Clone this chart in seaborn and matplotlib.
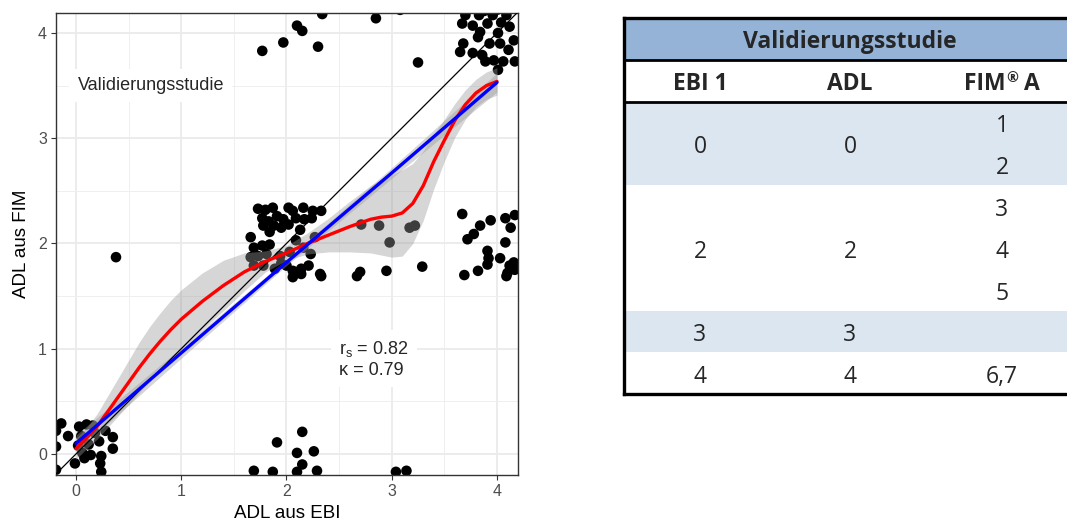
import numpy as np
import pandas as pd
import matplotlib
matplotlib.use("Agg")
import matplotlib.pyplot as plt
import seaborn as sns
from matplotlib.patches import Rectangle

# ---------------- data: jittered scatter points (ADL aus EBI, ADL aus FIM) ----------------
pts_00 = [(-0.19, 0.22), (-0.14, 0.29), (-0.075, 0.17), (-0.19, 0.07), (-0.19, -0.15),
          (-0.01, -0.09), (0.03, 0.26), (0.10, 0.28), (0.16, 0.27), (0.06, 0.01),
          (0.14, -0.01), (0.22, 0.12), (0.28, 0.22), (0.35, 0.16), (0.35, 0.05),
          (0.24, -0.02), (0.23, -0.09), (0.24, -0.17), (0.05, 0.17), (0.12, 0.09),
          (0.18, 0.20), (0.08, -0.04), (0.02, 0.08)]
pts_02 = [(0.38, 1.87)]
pts_22 = [(1.73, 2.33), (1.80, 2.32), (1.87, 2.34), (2.02, 2.34), (2.06, 2.31), (2.16, 2.34),
          (2.25, 2.31), (2.33, 2.31), (1.77, 2.24), (1.83, 2.21), (1.91, 2.26), (1.97, 2.23),
          (2.09, 2.24), (2.17, 2.23), (2.24, 2.24), (1.78, 2.17), (1.88, 2.17), (1.95, 2.15),
          (2.02, 2.18), (2.13, 2.13), (1.66, 2.06), (1.84, 2.11),
          (1.69, 1.96), (1.77, 1.98), (1.84, 1.99), (1.66, 1.87), (1.73, 1.88), (1.81, 1.90),
          (1.94, 1.88), (2.03, 1.92), (2.09, 2.03), (2.16, 1.96), (2.23, 1.90), (2.27, 2.06),
          (1.69, 1.79), (1.78, 1.79), (1.89, 1.76), (2.00, 1.79), (2.06, 1.74), (2.14, 1.76),
          (2.06, 1.68), (2.14, 1.71), (2.32, 1.71), (1.95, 1.81), (2.21, 1.79), (2.33, 1.69)]
pts_20 = [(1.69, -0.16), (1.87, -0.17), (1.91, 0.11), (2.10, 0.01), (2.10, -0.17),
          (2.15, 0.21), (2.15, -0.10), (2.26, 0.025), (2.29, -0.16), (3.04, -0.17), (3.14, -0.16)]
pts_24 = [(1.77, 3.83), (1.97, 3.91), (2.10, 4.07), (2.15, 4.02), (2.30, 3.87), (2.34, 4.18),
          (2.85, 4.14), (3.25, 3.72), (3.08, 4.22)]
pts_32 = [(2.71, 2.18), (2.88, 2.17), (2.98, 2.01), (3.17, 2.15), (3.22, 2.17),
          (2.67, 1.69), (2.70, 1.73), (2.95, 1.74), (3.29, 1.78)]
pts_44 = [(3.65, 3.82), (3.68, 3.90), (3.67, 4.09), (3.70, 4.17), (3.77, 4.07), (3.77, 3.81),
          (3.83, 4.17), (3.84, 4.01), (3.86, 3.79), (3.91, 4.09), (3.93, 3.90), (3.96, 4.17),
          (3.97, 3.74), (4.01, 4.00), (4.03, 3.90), (4.04, 4.10), (4.06, 3.73), (4.09, 4.17),
          (4.11, 3.84), (4.12, 4.06), (4.16, 3.93), (4.17, 3.73), (4.01, 3.65), (3.89, 3.73),
          (3.82, 3.96), (3.72, 4.22), (3.88, 4.21), (4.00, 4.22)]
pts_42 = [(3.67, 2.28), (3.72, 2.04), (3.78, 2.09), (3.84, 2.17), (3.94, 2.22), (4.08, 2.24),
          (4.17, 2.27), (4.13, 2.15), (4.08, 2.01), (3.91, 1.93), (3.92, 1.86), (3.91, 1.80),
          (4.03, 1.86), (3.82, 1.74), (3.69, 1.70), (4.09, 1.69), (4.12, 1.79), (4.16, 1.82),
          (4.17, 1.75), (4.10, 1.72)]

# ---------------- data: loess (red) and linear (blue) fits with confidence bands ----------------
loess_x  = [0.0, 0.1, 0.2, 0.3, 0.4, 0.5, 0.6, 0.7, 0.8, 0.9, 1.0, 1.2, 1.4, 1.6, 1.8,
            2.0, 2.2, 2.4, 2.6, 2.8, 2.9, 3.0, 3.1, 3.2, 3.3, 3.4, 3.5, 3.6, 3.7, 3.8, 3.9, 4.0]
loess_y  = [0.05, 0.15, 0.26, 0.40, 0.54, 0.68, 0.82, 0.95, 1.07, 1.18, 1.28, 1.45, 1.60, 1.73, 1.83,
            1.91, 2.00, 2.08, 2.16, 2.23, 2.25, 2.26, 2.29, 2.38, 2.55, 2.78, 2.98, 3.17, 3.32, 3.43, 3.50, 3.54]
loess_lo = [-0.05, 0.05, 0.14, 0.25, 0.36, 0.47, 0.58, 0.69, 0.80, 0.90, 1.00, 1.18, 1.36, 1.55, 1.73,
            1.84, 1.90, 1.92, 1.92, 1.91, 1.89, 1.87, 1.88, 2.00, 2.22, 2.52, 2.78, 3.01, 3.18, 3.30, 3.37, 3.41]
loess_hi = [0.15, 0.25, 0.38, 0.55, 0.72, 0.89, 1.06, 1.21, 1.34, 1.46, 1.56, 1.72, 1.84, 1.91, 1.93,
            1.98, 2.10, 2.24, 2.40, 2.55, 2.61, 2.65, 2.70, 2.76, 2.88, 3.04, 3.18, 3.33, 3.46, 3.56, 3.63, 3.67]

lm_x  = [0.0, 1.0, 2.0, 3.0, 4.0]
lm_y  = [0.10, 0.96, 1.82, 2.67, 3.53]
lm_lo = [0.02, 0.91, 1.79, 2.62, 3.44]
lm_hi = [0.18, 1.01, 1.85, 2.72, 3.62]

x_ticks = [0, 1, 2, 3, 4]
y_ticks = [0, 1, 2, 3, 4]
x_label = "ADL aus EBI"
y_label = "ADL aus FIM"
study_label = "Validierungsstudie"
stat_rs = "0.82"
stat_kappa = "0.79"

# ---------------- data: table ----------------
table_title = "Validierungsstudie"
table_cols = ["EBI 1", "ADL", "FIM® A"]
ebi_vals = ["0", "2", "3", "4"]
adl_vals = ["0", "2", "3", "4"]
fim_vals = [["1", "2"], ["3", "4", "5"], [], ["6,7"]]
row_lines = [2, 3, 1, 1]

# ---------------- figure ----------------
sns.set_theme(style="white")
plt.rcParams['font.family'] = ['Liberation Sans', 'DejaVu Sans']
plt.rcParams['mathtext.fontset'] = 'custom'
plt.rcParams['mathtext.rm'] = 'Liberation Sans'

W, H = 1067, 523
fig = plt.figure(figsize=(W / 100, H / 100), dpi=100)
fig.patch.set_facecolor('white')

ax = fig.add_axes([56 / W, (H - 475) / H, 462 / W, 462 / H])
ax.set_facecolor('white')

all_pts = pts_00 + pts_02 + pts_22 + pts_20 + pts_24 + pts_32 + pts_44 + pts_42
df = pd.DataFrame(all_pts, columns=["ebi", "fim"])

sns.scatterplot(data=df, x="ebi", y="fim", color="black", s=58, edgecolor="none",
                linewidth=0, ax=ax, zorder=2)

ax.fill_between(loess_x, loess_lo, loess_hi, color="#999999", alpha=0.4, lw=0, zorder=3)
ax.fill_between(lm_x, lm_lo, lm_hi, color="#999999", alpha=0.4, lw=0, zorder=3)

ax.axline((0, 0), slope=1, color="black", lw=0.9, zorder=3.5)

sns.lineplot(x=loess_x, y=loess_y, color="#FF0000", lw=2.4, ax=ax, sort=False,
             estimator=None, zorder=4)
sns.lineplot(x=lm_x, y=lm_y, color="#0000FF", lw=2.4, ax=ax, sort=False,
             estimator=None, zorder=4.5)

ax.set_xlim(-0.19, 4.20)
ax.set_ylim(-0.20, 4.19)
ax.set_xticks(x_ticks)
ax.set_yticks(y_ticks)
ax.set_xticks([0.5, 1.5, 2.5, 3.5], minor=True)
ax.set_yticks([0.5, 1.5, 2.5, 3.5], minor=True)
ax.grid(which="major", color="#EBEBEB", lw=1.3, zorder=0)
ax.grid(which="minor", color="#EFEFEF", lw=0.7, zorder=0)
ax.set_axisbelow(True)
for sp in ax.spines.values():
    sp.set_color("#333333")
    sp.set_linewidth(1.0)
ax.tick_params(which="major", length=3.5, width=0.8, color="#333333",
               labelsize=11.5, labelcolor="#4D4D4D", pad=3, bottom=True, left=True)
ax.tick_params(which="minor", length=0)
ax.set_xlabel(x_label, fontsize=13.5, color="black", labelpad=4)
ax.set_ylabel(y_label, fontsize=13.5, color="black", labelpad=6)

ax.text(0.71, 3.50, study_label, fontsize=13, ha="center", va="center", zorder=5,
        bbox=dict(facecolor="white", edgecolor="none", boxstyle="square,pad=0.45"))
ax.text(2.50, 0.90, "r$_{\\mathregular{s}}$ = " + stat_rs + "\n\u03ba = " + stat_kappa,
        fontsize=13, ha="left", va="center", linespacing=1.25, zorder=5,
        bbox=dict(facecolor="white", edgecolor="none", boxstyle="square,pad=0.45"))

# ---------------- table ----------------
tax = fig.add_axes([0, 0, 1, 1])
tax.set_xlim(0, W)
tax.set_ylim(H, 0)
tax.axis("off")
tax.patch.set_alpha(0)

tbl_left, tbl_right, tbl_top = 624, 1075, 18
line_h = 41.8
txt_dy = 4.0
col_x = [700, 850, 1002]
blue_head = "#95B3D7"
blue_light = "#DCE6F1"
tfont = ['Open Sans', 'DejaVu Sans']
fs = 16.5


def header_text(x, y, s):
    if "®" in s:
        a, b = s.split("®")
        t1 = tax.text(x, y, a, fontsize=fs, fontweight="bold", ha="right", va="center",
                      family=tfont)
        t2 = tax.text(x, y - 6, "®", fontsize=fs * 0.62, fontweight="bold", ha="left",
                      va="center", family=tfont)
        t3 = tax.text(x, y, b, fontsize=fs, fontweight="bold", ha="left", va="center",
                      family=tfont)
        fig.canvas.draw()
        w1 = t1.get_window_extent().width
        w2 = t2.get_window_extent().width
        w3 = t3.get_window_extent().width
        total = w1 + w2 + w3
        left = x - total / 2
        t1.set_x(left + w1)
        t2.set_x(left + w1)
        t3.set_x(left + w1 + w2)
    else:
        tax.text(x, y, s, fontsize=fs, fontweight="bold", ha="center", va="center",
                 family=tfont)


# title row
tax.add_patch(Rectangle((tbl_left, tbl_top), tbl_right - tbl_left, line_h,
                        facecolor=blue_head, edgecolor="none"))
tax.text(850, tbl_top + line_h / 2 + txt_dy - 1, table_title, fontsize=fs,
         fontweight="bold", ha="center", va="center", family=tfont)
# column header row
y = tbl_top + line_h
for cx, c in zip(col_x, table_cols):
    header_text(cx, y + line_h / 2 + txt_dy - 1, c)
y_hdr_bottom = y + line_h
y = y_hdr_bottom
fills = [blue_light, "white", blue_light, "white"]
for i, n in enumerate(row_lines):
    h = n * line_h
    tax.add_patch(Rectangle((tbl_left, y), tbl_right - tbl_left, h,
                            facecolor=fills[i], edgecolor="none"))
    tax.text(col_x[0], y + h / 2 + txt_dy, ebi_vals[i], fontsize=fs, ha="center",
             va="center", family=tfont)
    tax.text(col_x[1], y + h / 2 + txt_dy, adl_vals[i], fontsize=fs, ha="center",
             va="center", family=tfont)
    for j, v in enumerate(fim_vals[i]):
        tax.text(col_x[2], y + (j + 0.5) * line_h + txt_dy, v, fontsize=fs, ha="center",
                 va="center", family=tfont)
    y += h
tbl_bottom = y

# borders
tax.plot([tbl_left, tbl_left], [tbl_top, tbl_bottom], color="black", lw=2.4,
         solid_capstyle="projecting")
tax.plot([tbl_left, tbl_right], [tbl_top, tbl_top], color="black", lw=2.4,
         solid_capstyle="projecting")
tax.plot([tbl_left, tbl_right], [tbl_bottom, tbl_bottom], color="black", lw=2.4,
         solid_capstyle="projecting")
tax.plot([tbl_left, tbl_right], [tbl_top + line_h] * 2, color="black", lw=2.0)
tax.plot([tbl_left, tbl_right], [y_hdr_bottom] * 2, color="black", lw=2.0)

fig.savefig("out.png", dpi=100, facecolor="white")
